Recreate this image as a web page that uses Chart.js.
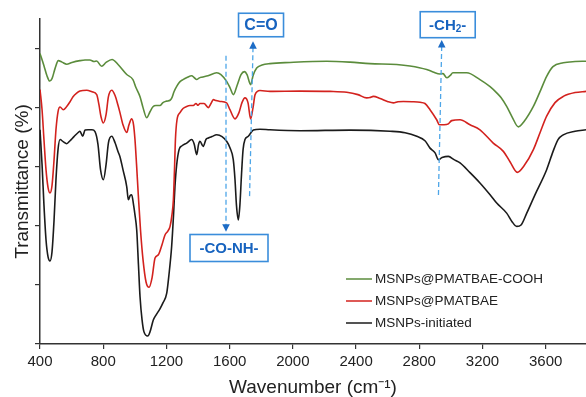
<!DOCTYPE html>
<html>
<head>
<meta charset="utf-8">
<script src="https://cdn.jsdelivr.net/npm/chart.js@4.4.1/dist/chart.umd.min.js"></script>
<style>
  html, body { margin: 0; padding: 0; background: #ffffff; }
  #wrap { width: 586px; height: 397px; }
</style>
</head>
<body>
<div id="wrap"><canvas id="c" width="586" height="397"></canvas></div>
<script>
// ---------------- DATA ----------------
const seriesLabels = ['MSNPs@PMATBAE-COOH', 'MSNPs@PMATBAE', 'MSNPs-initiated'];

const xTickVals = [400, 800, 1200, 1600, 2000, 2400, 2800, 3200, 3600];
const yTickVals = [0, 20, 40, 60, 80, 100];

// MSNPs@PMATBAE-COOH (green)
const greenWn = [400,425,444,461,476,495,516,539,569,602,653,685,716,742,758,790,818,856,894,949,988,1007,1033,1052,1075,1096,1115,1134,1159,1178,1202,1223,1235,1248,1265,1286,1305,1330,1360,1375,1392,1406,1423,1463,1518,1545,1581,1602,1624,1647,1672,1694,1710,1733,1748,1771,1805,1855,1982,2214,2362,2488,2657,2741,2847,2887,2931,2950,2974,2994,3013,3100,3184,3248,3290,3317,3353,3387,3427,3463,3522,3564,3606,3646,3711,3786,3855];
const greenT  = [98.3,94.2,90.8,89.0,89.8,93.2,95.9,95.4,94.7,95.3,95.9,96.1,96.1,95.6,95.8,94.0,95.3,96.3,94.6,91.2,89.5,86.8,83.7,80.0,76.6,78.6,80.3,80.7,80.7,81.7,82.2,82.5,83.4,85.4,87.2,88.8,89.5,90.2,90.8,90.2,89.5,90.0,90.3,90.8,91.8,91.2,88.9,86.8,84.4,87.5,91.2,92.2,91.2,87.8,90.8,93.4,94.4,94.9,95.3,95.7,95.4,94.9,94.6,94.1,92.9,92.1,91.4,91.5,90.1,90.8,91.8,91.8,89.5,87.1,85.0,83.4,80.4,76.9,73.5,75.3,80.4,85.4,90.6,93.9,95.2,95.6,95.7];

// MSNPs@PMATBAE (red)
const redWn = [400,413,425,438,451,463,476,489,501,514,527,547,569,590,609,632,653,696,729,759,773,786,801,818,833,854,875,894,906,925,949,963,980,992,1001,1011,1022,1036,1052,1071,1090,1109,1128,1149,1172,1191,1210,1223,1235,1244,1251,1257,1267,1286,1305,1328,1349,1370,1387,1400,1412,1438,1465,1482,1497,1514,1539,1581,1602,1634,1659,1678,1697,1716,1733,1748,1761,1792,1855,2045,2235,2341,2412,2467,2488,2509,2552,2602,2636,2665,2699,2754,2805,2836,2868,2910,2927,2957,2984,3005,3058,3121,3184,3268,3332,3374,3420,3463,3522,3564,3606,3659,3711,3786,3855];
const redT  = [86.1,79.3,69.2,59.0,52.9,51.1,53.6,62.4,72.5,78.6,80.2,79.3,80.4,82.0,83.7,84.9,85.6,85.9,85.4,84.4,81.0,76.9,74.8,77.6,83.7,85.9,84.1,80.7,78.3,74.2,71.6,74.2,76.2,74.2,69.2,60.7,50.5,38.6,28.5,21.0,19.2,22.4,29.1,30.2,33.6,36.9,38.3,39.8,43.7,48.8,59.0,69.2,75.9,78.3,79.7,80.4,80.7,80.7,81.4,80.8,81.4,81.4,80.0,81.4,82.7,82.4,82.1,81.6,79.3,76.2,78.3,81.7,83.3,81.7,76.2,80.0,84.4,85.8,85.5,85.6,85.5,85.2,84.4,83.3,83.4,83.8,83.1,82.0,81.6,82.0,82.1,82.0,81.8,81.4,79.3,75.9,74.2,74.2,74.5,75.6,75.9,74.2,72.5,68.0,65.2,61.7,58.1,60.3,65.8,71.5,77.1,81.7,83.8,85.1,85.5];

// MSNPs-initiated (black)
const blackWn = [400,413,425,438,451,463,476,489,501,514,527,546,569,590,615,640,653,670,685,704,729,748,767,783,801,818,833,854,875,894,906,925,949,959,970,980,992,1001,1012,1023,1033,1046,1058,1082,1096,1117,1134,1159,1178,1202,1216,1233,1245,1254,1265,1280,1299,1328,1360,1375,1392,1403,1412,1433,1450,1465,1488,1518,1552,1581,1602,1623,1634,1643,1655,1665,1675,1685,1697,1718,1750,1792,1855,2045,2362,2615,2710,2784,2836,2868,2900,2921,2944,2984,3020,3058,3121,3184,3248,3290,3353,3387,3417,3444,3480,3532,3606,3646,3678,3711,3786,3855];
const blackT  = [72.5,60.7,47.1,35.3,29.5,28.1,31.2,42.0,55.6,65.8,69.2,68.5,67.8,68.8,70.2,71.5,72.0,70.3,72.4,72.5,72.5,71.9,67.5,59.0,55.6,60.7,68.1,70.3,68.1,65.1,63.4,59.0,53.2,48.8,50.2,50.5,47.1,43.7,38.6,26.8,16.0,8.1,4.1,2.7,4.1,8.1,9.8,11.9,13.9,17.2,23.4,33.0,43.7,53.3,60.7,65.8,67.1,68.0,69.2,67.8,64.1,67.5,68.6,66.9,69.2,69.7,70.2,70.8,70.2,68.6,66.4,62.4,55.6,47.1,42.0,47.1,57.3,65.8,69.2,70.3,72.4,72.7,72.5,72.2,72.4,72.0,71.5,70.3,68.8,66.3,64.7,62.4,63.1,63.5,62.4,61.3,58.0,54.5,50.5,47.7,44.3,41.4,39.8,40.3,44.3,50.5,59.0,65.1,69.2,70.8,72.0,72.5];

// Annotations
const annoLabels = ['C=O', '-CO-NH-', '-CH2-'];
const annoWnTop = [1748, 1577, 2942];
const annoWnBottom = [1726, 1577, 2921];
const annoTTop = [102.5, 97.6, 102.9];
const annoTBottom = [49.8, 38.0, 49.8];
const annoArrowUp = [true, false, true];

// --------------- BUILD ----------------
function pairs(xs, ys) { return xs.map((x, i) => ({ x: x, y: ys[i] })); }

const FONT = "'Liberation Sans', Arial, Helvetica, sans-serif";
const colors = ['#5b8c3c', '#d3221e', '#1b1b1b'];

const datasets = [
  { label: seriesLabels[0], data: pairs(greenWn, greenT), borderColor: colors[0] },
  { label: seriesLabels[1], data: pairs(redWn, redT), borderColor: colors[1] },
  { label: seriesLabels[2], data: pairs(blackWn, blackT), borderColor: colors[2] }
].map(d => Object.assign(d, {
  borderWidth: 1.6, pointRadius: 0, fill: false,
  cubicInterpolationMode: 'monotone', tension: 0.4
}));

const legendPlugin = {
  id: 'insideLegend',
  afterDatasetsDraw(chart) {
    const ctx = chart.ctx;
    const x0 = 346, x1 = 372, tx = 375;
    const rows = [279, 301, 323];
    ctx.save();
    ctx.font = "13.5px " + FONT;
    ctx.textBaseline = 'middle';
    ctx.textAlign = 'left';
    chart.data.datasets.forEach((ds, i) => {
      ctx.strokeStyle = ds.borderColor;
      ctx.lineWidth = 1.5;
      ctx.beginPath();
      ctx.moveTo(x0, rows[i]);
      ctx.lineTo(x1, rows[i]);
      ctx.stroke();
      ctx.fillStyle = '#222222';
      ctx.fillText(ds.label, tx, rows[i] + 0.5);
    });
    ctx.restore();
  }
};

function drawBoxLabel(ctx, cx, cy, w, h, label) {
  ctx.save();
  ctx.fillStyle = '#ffffff';
  ctx.fillRect(cx - w / 2, cy - h / 2, w, h);
  ctx.strokeStyle = '#3a8ddb';
  ctx.lineWidth = 1.6;
  ctx.strokeRect(cx - w / 2, cy - h / 2, w, h);
  ctx.fillStyle = '#1763bf';
  ctx.textBaseline = 'middle';
  if (label === '-CH2-') {
    const big = "bold 15px " + FONT, small = "bold 10px " + FONT;
    ctx.font = big; const a = ctx.measureText('-CH').width;
    ctx.font = small; const b = ctx.measureText('2').width;
    ctx.font = big; const c = ctx.measureText('-').width;
    let x = cx - (a + b + c) / 2;
    ctx.textAlign = 'left';
    ctx.font = big; ctx.fillText('-CH', x, cy + 1); x += a;
    ctx.font = small; ctx.fillText('2', x, cy + 5); x += b;
    ctx.font = big; ctx.fillText('-', x, cy + 1);
  } else {
    ctx.font = (label === 'C=O' ? "bold 16px " : "bold 15px ") + FONT;
    ctx.textAlign = 'center';
    ctx.fillText(label, cx, cy + 1);
  }
  ctx.restore();
}

const annoPlugin = {
  id: 'annos',
  afterDatasetsDraw(chart) {
    const ctx = chart.ctx;
    const xs = chart.scales.x, ys = chart.scales.y;
    ctx.save();
    annoLabels.forEach((lab, i) => {
      const xt = xs.getPixelForValue(annoWnTop[i]);
      const xb = xs.getPixelForValue(annoWnBottom[i]);
      const yt = ys.getPixelForValue(annoTTop[i]);
      const yb = ys.getPixelForValue(annoTBottom[i]);
      ctx.strokeStyle = '#4ea6e8';
      ctx.lineWidth = 1.3;
      ctx.setLineDash([5, 3]);
      ctx.beginPath();
      if (annoArrowUp[i]) { ctx.moveTo(xt, yt + 6); ctx.lineTo(xb, yb); }
      else { ctx.moveTo(xt, yt); ctx.lineTo(xb, yb - 6); }
      ctx.stroke();
      ctx.setLineDash([]);
      ctx.fillStyle = '#1d6cc6';
      ctx.beginPath();
      if (annoArrowUp[i]) {
        ctx.moveTo(xt, yt); ctx.lineTo(xt - 3.8, yt + 7.5); ctx.lineTo(xt + 3.8, yt + 7.5);
      } else {
        ctx.moveTo(xb, yb); ctx.lineTo(xb - 3.8, yb - 7.5); ctx.lineTo(xb + 3.8, yb - 7.5);
      }
      ctx.closePath();
      ctx.fill();
    });
    ctx.restore();
    const cTop = xs.getPixelForValue(annoWnTop[0]);
    drawBoxLabel(ctx, cTop + 8, 25, 45, 23.5, annoLabels[0]);
    const nB = xs.getPixelForValue(annoWnBottom[1]);
    drawBoxLabel(ctx, nB + 3, 248, 78, 27, annoLabels[1]);
    const hTop = xs.getPixelForValue(annoWnTop[2]);
    drawBoxLabel(ctx, hTop + 6, 24.7, 55, 26, annoLabels[2]);
  }
};

const chart = new Chart(document.getElementById('c'), {
  type: 'line',
  data: { datasets: datasets },
  options: {
    responsive: false,
    animation: false,
    devicePixelRatio: 1,
    layout: { padding: { top: 19, right: 0, left: 0, bottom: 0 } },
    plugins: { legend: { display: false }, tooltip: { enabled: false } },
    scales: {
      x: {
        type: 'linear',
        min: 400, max: 3855,
        afterFit(s) { s.height = 53; },
        afterBuildTicks(s) { s.ticks = xTickVals.map(v => ({ value: v })); },
        border: { display: true, color: '#333333', width: 1.5 },
        grid: { drawOnChartArea: false, drawTicks: true, tickLength: 5, color: '#333333', lineWidth: 1.2 },
        ticks: { color: '#222222', font: { family: FONT, size: 15 }, padding: 4, maxRotation: 0, autoSkip: false,
                 callback: (v) => String(v) },
        title: { display: true, text: 'Wavenumber (cm\u207B\u00B9)', color: '#222222',
                 font: { family: FONT, size: 19, lineHeight: 1 }, padding: { top: 0, bottom: 0 } }
      },
      y: {
        type: 'linear',
        min: 0, max: 110,
        afterFit(s) { s.width = 40; },
        afterBuildTicks(s) { s.ticks = yTickVals.map(v => ({ value: v })); },
        border: { display: true, color: '#333333', width: 1.5 },
        grid: { drawOnChartArea: false, drawTicks: true, tickLength: 5, color: '#333333', lineWidth: 1.2 },
        ticks: { display: false },
        title: { display: true, text: 'Transmittance (%)', color: '#222222',
                 font: { family: FONT, size: 19, lineHeight: 1.2 }, padding: { top: 11, bottom: 0 } }
      }
    }
  },
  plugins: [annoPlugin, legendPlugin]
});
</script>
</body>
</html>
